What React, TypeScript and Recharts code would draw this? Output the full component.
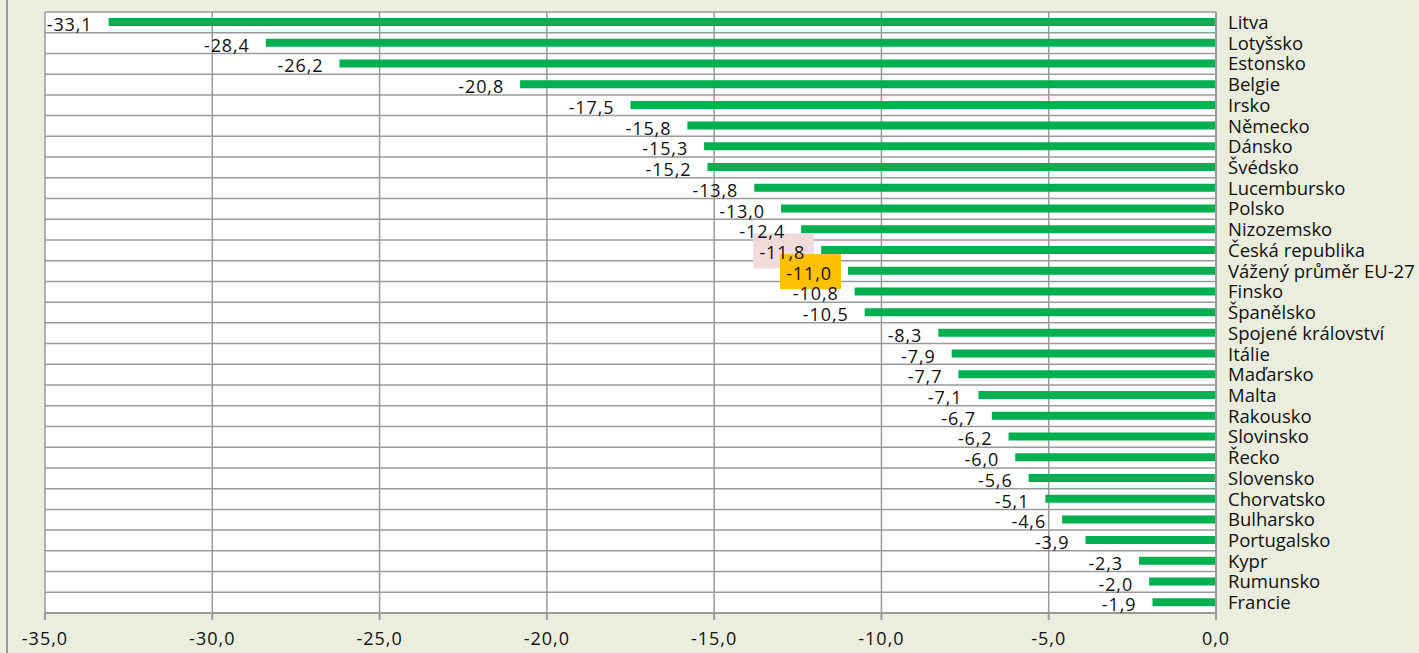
import { BarChart, Bar, XAxis, YAxis, CartesianGrid, LabelList } from 'recharts'

const countries = [
  'Litva', 'Lotyšsko', 'Estonsko', 'Belgie', 'Irsko', 'Německo', 'Dánsko', 'Švédsko',
  'Lucembursko', 'Polsko', 'Nizozemsko', 'Česká republika', 'Vážený průměr EU-27', 'Finsko',
  'Španělsko', 'Spojené království', 'Itálie', 'Maďarsko', 'Malta', 'Rakousko', 'Slovinsko',
  'Řecko', 'Slovensko', 'Chorvatsko', 'Bulharsko', 'Portugalsko', 'Kypr', 'Rumunsko', 'Francie',
]

const values = [
  -33.1, -28.4, -26.2, -20.8, -17.5, -15.8, -15.3, -15.2, -13.8, -13.0, -12.4, -11.8, -11.0, -10.8,
  -10.5, -8.3, -7.9, -7.7, -7.1, -6.7, -6.2, -6.0, -5.6, -5.1, -4.6, -3.9, -2.3, -2.0, -1.9,
]

const xTicks = [-35, -30, -25, -20, -15, -10, -5, 0]

// label boxes for the two highlighted rows
const highlightFill: Record<string, string> = {
  'Česká republika': '#F2DCDB',
  'Vážený průměr EU-27': '#FFC000',
}

const FONT = '"Open Sans", sans-serif'
const GRID = '#9a9a9a'

const data = countries.map((name, i) => ({ name, value: values[i] }))

const fmt = (v: number) => v.toFixed(1).replace('.', ',')

function BoxLabel(props: any) {
  const { x, y, width, height, index } = props
  const fill = highlightFill[countries[index]]
  if (!fill) return null
  const left = Math.min(x, x + width)
  const end = left - 16
  const cy = y + height / 2 + 1
  return <rect x={end - 52} y={cy - 17.5} width={61} height={35} fill={fill} />
}

function ValueLabel(props: any) {
  const { x, y, width, height, value } = props
  const left = Math.min(x, x + width)
  return (
    <text
      x={left - 16}
      y={y + height / 2 + 2}
      textAnchor="end"
      dominantBaseline="central"
      fill="#111"
      fontSize={18}
      letterSpacing={0.9}
      fontFamily={FONT}
    >
      {fmt(value)}
    </text>
  )
}

export default function App() {
  return (
    <div style={{ position: 'absolute', left: 0, top: 0, width: 1419, height: 653, background: '#EBEEDE' }}>
      <div style={{ position: 'absolute', left: 6, top: 0, width: 2, height: 653, background: '#9a9a9a' }} />
      <BarChart
        width={1419}
        height={653}
        data={data}
        layout="vertical"
        margin={{ top: 12, right: 0, left: 45, bottom: 0 }}
        barSize={8}
      >
        <CartesianGrid
          fill="#ffffff"
          stroke={GRID}
          strokeWidth={1.5}
          horizontalCoordinatesGenerator={({ offset }: any) =>
            countries.map((_, i) => offset.top + (i * offset.height) / countries.length).concat(offset.top + offset.height)
          }
        />
        <XAxis
          type="number"
          domain={[-35, 0]}
          ticks={xTicks}
          tickFormatter={fmt}
          height={40}
          axisLine={{ stroke: GRID, strokeWidth: 2 }}
          tickLine={{ stroke: GRID, strokeWidth: 2 }}
          tickSize={7}
          tickMargin={12}
          tick={{ fill: '#111', fontSize: 18, fontFamily: FONT, letterSpacing: 1 }}
        />
        <YAxis
          type="category"
          dataKey="name"
          orientation="right"
          width={203}
          axisLine={{ stroke: GRID, strokeWidth: 2 }}
          tickLine={false}
          tickSize={0}
          tickMargin={12}
          interval={0}
          tick={{ fill: '#111', fontSize: 18.5, fontFamily: FONT, textAnchor: 'start' }}
        />
        <Bar dataKey="value" fill="#00B050" isAnimationActive={false}>
          <LabelList dataKey="value" content={BoxLabel} />
          <LabelList dataKey="value" content={ValueLabel} />
        </Bar>
      </BarChart>
    </div>
  )
}
